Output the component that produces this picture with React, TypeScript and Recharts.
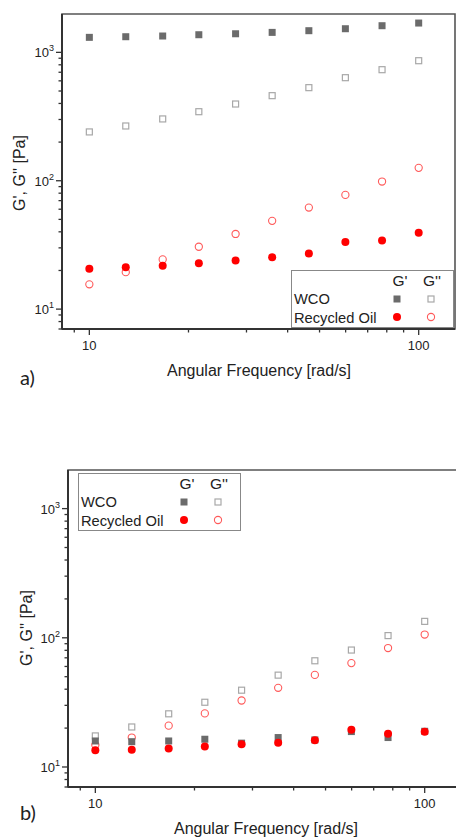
import { ScatterChart, Scatter, XAxis, YAxis, ReferenceArea } from 'recharts'

// angular frequency [rad/s], 10 points per decade-ish sweep
const freq = [10, 12.9, 16.7, 21.5, 27.8, 35.9, 46.4, 59.9, 77.4, 100]

// a)
const wcoGpA = [1309, 1324, 1341, 1372, 1396, 1431, 1475, 1528, 1613, 1692]
const wcoGppA = [240, 267, 303, 345, 396, 460, 531, 635, 733, 861]
const oilGpA = [20.6, 21.2, 21.8, 22.8, 23.9, 25.3, 27.1, 33.4, 34.2, 39.3]
const oilGppA = [15.6, 19.4, 24.4, 30.6, 38.5, 48.7, 61.8, 77.6, 98.6, 126]

// b)
const wcoGpB = [15.9, 15.7, 15.9, 16.4, 15.3, 16.9, 16.2, 18.8, 16.9, 18.9]
const wcoGppB = [17.4, 20.4, 25.8, 31.7, 39.3, 51.4, 66.4, 80.4, 104, 134]
const oilGpB = [13.5, 13.6, 13.9, 14.4, 15.0, 15.4, 16.1, 19.4, 18.1, 18.7]
const oilGppB = [14.8, 16.9, 20.9, 26.0, 32.7, 41.0, 51.6, 63.7, 83.3, 106]

const xMajor = [10, 100]
const xMinor = [9, 20, 30, 40, 50, 60, 70, 80, 90]
const yMajor = [10, 100, 1000]
const yMinor = [7, 8, 9, 20, 30, 40, 50, 60, 70, 80, 90, 200, 300, 400, 500, 600, 700, 800, 900]

const xDomain = [8.26, 128.9]
const yDomain = [7, 1990]

const INK = '#222'
const AXIS = '#333'
const FONT = '"Liberation Sans", Arial, sans-serif'
const GREY = '#6b6b6b'
const LIGHT = '#a8a8a8'
const RED = '#ff0000'
const PINK = '#ff5a5a'

const rows = (vals: number[]) => freq.map((f, i) => ({ f, v: vals[i] }))

const XTick = (p: any) => {
  const { x, y, payload } = p
  const major = xMajor.includes(payload.value)
  return (
    <g>
      <line x1={x} x2={x} y1={y} y2={y + (major ? 6 : 3.5)} stroke={AXIS} strokeWidth={1.3} />
      {major && (
        <text x={x} y={y + 21} textAnchor="middle" fontSize={13} fill={INK} fontFamily={FONT}>
          {payload.value}
        </text>
      )}
    </g>
  )
}

const YTick = (p: any) => {
  const { x, y, payload } = p
  const major = yMajor.includes(payload.value)
  return (
    <g>
      <line x1={x} x2={x - (major ? 6 : 3.5)} y1={y} y2={y} stroke={AXIS} strokeWidth={1.3} />
      {major && (
        <text x={x - 8} y={y + 5} textAnchor="end" fontSize={13} fill={INK} fontFamily={FONT}>
          10
          <tspan dy={-6} fontSize={9}>
            {Math.round(Math.log10(payload.value))}
          </tspan>
        </text>
      )}
    </g>
  )
}

const fillSquare = (p: any) => <rect x={p.cx - 3.5} y={p.cy - 3.5} width={7} height={7} fill={GREY} />
const openSquare = (p: any) => (
  <rect x={p.cx - 3} y={p.cy - 3} width={6} height={6} fill="none" stroke={LIGHT} strokeWidth={1.2} />
)
const fillCircle = (p: any) => <circle cx={p.cx} cy={p.cy} r={4} fill={RED} />
const openCircle = (p: any) => <circle cx={p.cx} cy={p.cy} r={3.6} fill="none" stroke={PINK} strokeWidth={1.1} />

const LegendBox = ({ left, top }: { left: number; top: number }) => (
  <svg
    width={163}
    height={58}
    style={{ position: 'absolute', left, top, overflow: 'visible' }}
    fontFamily={FONT}
  >
    <rect x={0.5} y={0.5} width={162} height={57} fill="#fff" stroke="#888" strokeWidth={1} />
    <text x={109} y={16} textAnchor="middle" fontSize={15.5} fill={INK}>G'</text>
    <text x={141} y={16} textAnchor="middle" fontSize={15.5} fill={INK}>G''</text>
    <text x={3} y={34} fontSize={14.7} fill={INK}>WCO</text>
    <text x={3} y={52.5} fontSize={14.7} fill={INK}>Recycled Oil</text>
    <rect x={102.5} y={25.5} width={7} height={7} fill={GREY} />
    <rect x={137} y={26} width={6} height={6} fill="none" stroke={LIGHT} strokeWidth={1.2} />
    <circle cx={106} cy={47} r={4} fill={RED} />
    <circle cx={140} cy={47} r={3.6} fill="none" stroke={PINK} strokeWidth={1.1} />
  </svg>
)

interface PanelProps {
  top: number
  width: number
  height: number
  marginTop: number
  yAxisWidth: number
  wcoGp: number[]
  wcoGpp: number[]
  oilGp: number[]
  oilGpp: number[]
}

const Panel = ({ top, width, height, marginTop, yAxisWidth, wcoGp, wcoGpp, oilGp, oilGpp }: PanelProps) => (
  <div style={{ position: 'absolute', left: 0, top }}>
    <ScatterChart width={width} height={height} margin={{ top: marginTop, right: 1, bottom: 0, left: 0 }}>
      <ReferenceArea
        x1={xDomain[0]}
        x2={xDomain[1]}
        y1={yDomain[0]}
        y2={yDomain[1]}
        fill="none"
        stroke="#555"
        strokeWidth={1.6}
      />
      <XAxis
        type="number"
        dataKey="f"
        scale="log"
        domain={xDomain}
        allowDataOverflow
        ticks={[...xMinor, ...xMajor]}
        interval={0}
        tick={XTick}
        tickLine={false}
        tickSize={0}
        tickMargin={0}
        height={31}
        axisLine={{ stroke: AXIS, strokeWidth: 2 }}
      />
      <YAxis
        type="number"
        dataKey="v"
        scale="log"
        domain={yDomain}
        allowDataOverflow
        ticks={[...yMinor, ...yMajor]}
        interval={0}
        tick={YTick}
        tickLine={false}
        tickSize={0}
        tickMargin={0}
        width={yAxisWidth}
        axisLine={{ stroke: AXIS, strokeWidth: 2 }}
      />
      <Scatter data={rows(wcoGpp)} shape={openSquare} isAnimationActive={false} />
      <Scatter data={rows(oilGpp)} shape={openCircle} isAnimationActive={false} />
      <Scatter data={rows(wcoGp)} shape={fillSquare} isAnimationActive={false} />
      <Scatter data={rows(oilGp)} shape={fillCircle} isAnimationActive={false} />
    </ScatterChart>
  </div>
)

const label = (text: string, style: any) => (
  <div style={{ position: 'absolute', whiteSpace: 'nowrap', color: INK, fontFamily: FONT, fontSize: 16, ...style }}>
    {text}
  </div>
)

export default function App() {
  return (
    <div
      style={{
        position: 'absolute',
        left: 0,
        top: 0,
        width: 456,
        height: 837,
        overflow: 'hidden',
        background: '#fff',
      }}
    >
      <Panel
        top={0}
        width={456}
        height={360}
        marginTop={14}
        yAxisWidth={62}
        wcoGp={wcoGpA}
        wcoGpp={wcoGppA}
        oilGp={oilGpA}
        oilGpp={oilGppA}
      />
      <Panel
        top={440}
        width={462}
        height={378}
        marginTop={30}
        yAxisWidth={68}
        wcoGp={wcoGpB}
        wcoGpp={wcoGppB}
        oilGp={oilGpB}
        oilGpp={oilGppB}
      />

      {label("G', G'' [Pa]", { left: 20, top: 173, transform: 'translate(-50%, -50%) rotate(-90deg)' })}
      {label('Angular Frequency [rad/s]', { left: 259, top: 371, transform: 'translate(-50%, -50%)' })}
      {label("G', G'' [Pa]", { left: 27, top: 628, transform: 'translate(-50%, -50%) rotate(-90deg)' })}
      {label('Angular Frequency [rad/s]', { left: 266, top: 829, transform: 'translate(-50%, -50%)' })}

      {label('a)', { left: 20, top: 377, fontFamily: 'Lato, sans-serif', fontSize: 20, transform: 'translateY(-50%)' })}
      {label('b)', { left: 20, top: 812, fontFamily: 'Lato, sans-serif', fontSize: 20, transform: 'translateY(-50%)' })}

      <LegendBox left={291} top={270} />
      <LegendBox left={78} top={473} />
    </div>
  )
}
